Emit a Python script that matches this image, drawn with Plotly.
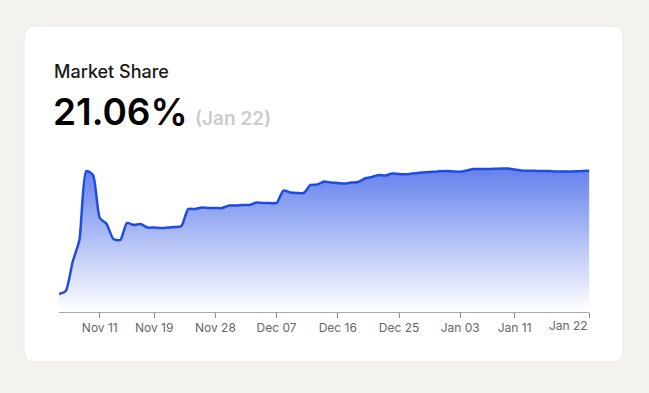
import pandas as pd
import plotly.graph_objects as go

start_date = "2023-11-05"
end_date = "2024-01-22"
dates = pd.date_range(start_date, end_date, freq="D")

share = [2.62, 3.07, 7.41, 10.70, 21.03, 20.43, 14.00, 13.10, 10.85, 10.70,
         13.25, 12.95, 13.10, 12.57, 12.57, 12.50, 12.57, 12.65, 12.80, 15.34,
         15.34, 15.57, 15.49, 15.49, 15.49, 15.87, 15.87, 15.94, 15.94, 16.32,
         16.24, 16.24, 16.24, 18.11, 17.81, 17.74, 17.74, 18.94, 19.01, 19.46,
         19.31, 19.24, 19.16, 19.31, 19.39, 19.91, 20.13, 20.43, 20.36, 20.66,
         20.58, 20.54, 20.66, 20.76, 20.84, 20.91, 20.99, 21.03, 20.96, 20.91,
         21.11, 21.33, 21.33, 21.33, 21.36, 21.41, 21.41, 21.26, 21.11, 21.06,
         21.06, 21.03, 21.03, 20.96, 20.96, 20.96, 20.99, 21.03, 21.06]

tick_dates = ["2023-11-11", "2023-11-19", "2023-11-28", "2023-12-07", "2023-12-16",
              "2023-12-25", "2024-01-03", "2024-01-11", "2024-01-22"]
tick_labels = ["Nov 11", "Nov 19", "Nov 28", "Dec 07", "Dec 16",
               "Dec 25", "Jan 03", "Jan 11", "Jan 22"]

title_text = "Market Share"
value_text = "21.06%"
date_text = "(Jan 22)"

W, H = 649, 393
FONT = "Inter"
TICK_FONT = dict(family=FONT, size=12, color="#666666")

def px_x(x):
    return x / W

def px_y(y):
    return 1 - y / H

fig = go.Figure()
fig.add_trace(go.Scatter(
    x=dates, y=share, mode="lines",
    line=dict(color="#1f4be0", width=2.5, shape="spline", smoothing=0.6),
    fill="tozeroy",
    fillgradient=dict(type="vertical",
                      colorscale=[[0, "rgba(40,80,230,0.0)"],
                                  [1, "rgba(40,80,230,0.72)"]]),
    hoverinfo="skip", showlegend=False,
))

# card background (rounded rectangle)
x0, x1, y0, y1, r = 24, 623, 26, 362, 11
rx, ry = r / W, r / H
X0, X1, Y0, Y1 = px_x(x0), px_x(x1), px_y(y0), px_y(y1)
path = (f"M {X0+rx},{Y0} L {X1-rx},{Y0} Q {X1},{Y0} {X1},{Y0-ry} "
        f"L {X1},{Y1+ry} Q {X1},{Y1} {X1-rx},{Y1} L {X0+rx},{Y1} "
        f"Q {X0},{Y1} {X0},{Y1+ry} L {X0},{Y0-ry} Q {X0},{Y0} {X0+rx},{Y0} Z")
fig.add_shape(type="path", path=path, xref="paper", yref="paper",
              fillcolor="white", line=dict(color="#ebe8e3", width=1), layer="below")

fig.add_annotation(text=title_text, x=px_x(52), y=px_y(72), xref="paper", yref="paper",
                   xanchor="left", yanchor="middle", showarrow=False,
                   font=dict(family=FONT, size=18, color="#1a1a1a", weight=500))
fig.add_annotation(text=value_text, x=px_x(51), y=px_y(111), xref="paper", yref="paper",
                   xanchor="left", yanchor="middle", showarrow=False,
                   font=dict(family=FONT, size=37, color="#000000", weight=600))
fig.add_annotation(text=date_text, x=px_x(193), y=px_y(118), xref="paper", yref="paper",
                   xanchor="left", yanchor="middle", showarrow=False,
                   font=dict(family=FONT, size=19, color="#cccccc", weight=600))

# last tick label is right-aligned to the axis end in the reference
shown_labels = tick_labels[:-1] + [""]
fig.add_annotation(text=tick_labels[-1], x=tick_dates[-1], xref="x",
                   y=px_y(325), yref="paper", xanchor="right", yanchor="middle",
                   showarrow=False, font=TICK_FONT, xshift=1)

fig.update_layout(
    width=W, height=H, autosize=False, margin=dict(l=0, r=0, t=0, b=0, pad=0),
    paper_bgcolor="#f4f2ee", plot_bgcolor="rgba(0,0,0,0)",
    xaxis=dict(type="date", range=[start_date, end_date], automargin=False,
               domain=[px_x(59), px_x(589.4)],
               tickvals=tick_dates, ticktext=shown_labels,
               showgrid=False, zeroline=False,
               showline=True, linecolor="#a8a8a8", linewidth=1,
               ticks="outside", ticklen=5, tickcolor="#8a8a8a", tickwidth=1,
               tickfont=TICK_FONT),
    yaxis=dict(range=[0, 22.68], domain=[px_y(311.5), px_y(160)], automargin=False,
               visible=False, showgrid=False, zeroline=False),
)

fig.write_html("out.html", config={"displayModeBar": False})
